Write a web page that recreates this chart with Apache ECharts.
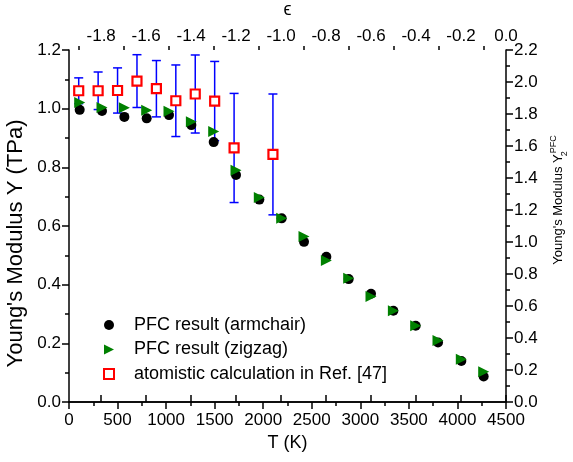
<!DOCTYPE html>
<html><head><meta charset="utf-8">
<script src="https://cdn.jsdelivr.net/npm/echarts@6/dist/echarts.min.js"></script>
<style>html,body{margin:0;padding:0;background:#fff}#c{width:573px;height:462px}</style>
</head><body><div id="c"></div>
<script>
// ---- data ----
const armT = [110, 340, 570, 800, 1030, 1260, 1490, 1720, 1960, 2190, 2420, 2650, 2880, 3110, 3340, 3570, 3800, 4040, 4270];
const armY = [0.996, 0.992, 0.972, 0.967, 0.978, 0.944, 0.886, 0.774, 0.690, 0.626, 0.546, 0.495, 0.419, 0.369, 0.311, 0.260, 0.203, 0.140, 0.087];
const zigT = [110, 340, 570, 800, 1030, 1260, 1490, 1720, 1960, 2190, 2420, 2650, 2880, 3110, 3340, 3570, 3800, 4040, 4270];
const zigY = [1.021, 1.004, 1.003, 0.995, 0.991, 0.955, 0.922, 0.790, 0.697, 0.626, 0.564, 0.482, 0.422, 0.360, 0.311, 0.260, 0.210, 0.146, 0.103];
const atomT = [100, 300, 500, 700, 900, 1100, 1300, 1500, 1700, 2100];
const atomY = [1.061, 1.061, 1.062, 1.094, 1.068, 1.027, 1.050, 1.026, 0.866, 0.844];
const atomErr = [0.044, 0.064, 0.077, 0.090, 0.096, 0.122, 0.133, 0.135, 0.186, 0.206];
const epsMajor = [-1.8, -1.6, -1.4, -1.2, -1.0, -0.8, -0.6, -0.4, -0.2, 0.0];
const epsMinor = [-1.9, -1.7, -1.5, -1.3, -1.1, -0.9, -0.7, -0.5, -0.3, -0.1];
const names = ['PFC result (armchair)', 'PFC result (zigzag)', 'atomistic calculation in Ref. [47]'];

const FONT = 'Liberation Sans, Arial, sans-serif';
const lineStyle = {color: '#000', width: 1.5};
const labelStyle = {color: '#000', fontSize: 17, fontFamily: FONT};

const chart = echarts.init(document.getElementById('c'), null, {renderer: 'canvas'});
chart.setOption({
  animation: false,
  backgroundColor: '#fff',
  grid: {left: 69, right: 67, top: 50, bottom: 60, containLabel: false, outerBoundsMode: 'none'},
  legend: {
    orient: 'vertical', left: 98, top: 311,
    itemWidth: 10, itemHeight: 10, itemGap: 6.5,
    textStyle: {color: '#000', fontSize: 18, fontFamily: FONT, lineHeight: 18, padding: [0, 0, 0, 15]},
    data: [
      {name: names[0], icon: 'circle'},
      {name: names[1], icon: 'path://M0,0L10,5L0,10Z'},
      {name: names[2], icon: 'rect'}
    ]
  },
  xAxis: [
    {
      type: 'value', position: 'bottom', min: 0, max: 4500, interval: 500,
      name: 'T (K)', nameLocation: 'middle', nameGap: 31,
      nameTextStyle: {color: '#000', fontSize: 18, fontFamily: FONT},
      axisLine: {lineStyle}, axisTick: {inside: false, length: 7, lineStyle},
      minorTick: {show: true, splitNumber: 2, length: 4, lineStyle},
      splitLine: {show: false},
      axisLabel: Object.assign({margin: 10, formatter: v => String(v)}, labelStyle)
    },
    {
      type: 'value', position: 'top', min: -1.943, max: 0,
      name: 'ϵ', nameLocation: 'middle', nameGap: 31,
      nameTextStyle: {color: '#000', fontSize: 18, fontFamily: FONT},
      axisLine: {lineStyle},
      axisTick: {inside: false, length: 7, lineStyle, customValues: epsMajor},
      splitLine: {show: false},
      axisLabel: Object.assign({margin: 5, customValues: epsMajor, formatter: v => v.toFixed(1)}, labelStyle)
    },
    {
      type: 'value', position: 'top', min: -1.943, max: 0,
      axisLine: {show: false},
      axisTick: {inside: false, length: 4, lineStyle, customValues: epsMinor},
      splitLine: {show: false}, axisLabel: {show: false}
    }
  ],
  yAxis: [
    {
      type: 'value', position: 'left', min: 0, max: 1.2, interval: 0.2,
      name: "Young's Modulus Y (TPa)", nameLocation: 'middle', nameRotate: 90, nameGap: 37,
      nameTextStyle: {color: '#000', fontSize: 22, fontFamily: FONT, padding: [0, 35, 0, 0]},
      axisLine: {lineStyle}, axisTick: {inside: false, length: 7, lineStyle},
      minorTick: {show: true, splitNumber: 2, length: 4, lineStyle},
      splitLine: {show: false},
      axisLabel: Object.assign({margin: 8, formatter: v => v.toFixed(1)}, labelStyle)
    },
    {
      type: 'value', position: 'right', min: 0, max: 2.2, interval: 0.2,
      name: "Young's Modulus Y{sub|2}{sup|PFC}", nameLocation: 'middle', nameRotate: 90, nameGap: 41,
      nameTextStyle: {color: '#000', fontSize: 13, fontFamily: FONT, padding: [0, 0, 0, 52], lineHeight: 20,
        rich: {
          sub: {fontSize: 9, fontFamily: FONT, color: '#000', verticalAlign: 'bottom', width: 1, lineHeight: 20},
          sup: {fontSize: 9, fontFamily: FONT, color: '#000', verticalAlign: 'top', lineHeight: 20}
        }},
      axisLine: {lineStyle}, axisTick: {inside: false, length: 7, lineStyle},
      minorTick: {show: true, splitNumber: 2, length: 4, lineStyle},
      splitLine: {show: false},
      axisLabel: Object.assign({margin: 8, formatter: v => v.toFixed(1)}, labelStyle)
    }
  ],
  series: [
    {
      type: 'custom', xAxisIndex: 0, yAxisIndex: 0, z: 2,
      data: atomT.map((t, i) => [t, atomY[i], atomErr[i]]),
      encode: {x: 0, y: 1},
      renderItem: function (params, api) {
        const x = api.value(0), y = api.value(1), e = api.value(2);
        const a = api.coord([x, y + e]), b = api.coord([x, y - e]);
        const w = 4.5;
        const st = {stroke: '#0000ff', lineWidth: 1.5, fill: null};
        return {type: 'group', children: [
          {type: 'line', shape: {x1: a[0], y1: a[1], x2: b[0], y2: b[1]}, style: st},
          {type: 'line', shape: {x1: a[0] - w, y1: a[1], x2: a[0] + w, y2: a[1]}, style: st},
          {type: 'line', shape: {x1: b[0] - w, y1: b[1], x2: b[0] + w, y2: b[1]}, style: st}
        ]};
      }
    },
    {
      name: names[2], type: 'scatter', xAxisIndex: 0, yAxisIndex: 0, z: 3,
      symbol: 'rect', symbolSize: 9,
      itemStyle: {color: '#fff', borderColor: '#ff0000', borderWidth: 2.2, opacity: 1},
      data: atomT.map((t, i) => [t, atomY[i]])
    },
    {
      name: names[0], type: 'scatter', xAxisIndex: 0, yAxisIndex: 0, z: 4,
      symbol: 'circle', symbolSize: 10,
      itemStyle: {color: '#000', opacity: 1},
      data: armT.map((t, i) => [t, armY[i]])
    },
    {
      name: names[1], type: 'scatter', xAxisIndex: 0, yAxisIndex: 0, z: 5,
      symbol: 'triangle', symbolSize: [11, 11], symbolRotate: -90,
      itemStyle: {color: '#008000', opacity: 1},
      data: zigT.map((t, i) => [t, zigY[i]])
    }
  ]
});
</script>
</body></html>
